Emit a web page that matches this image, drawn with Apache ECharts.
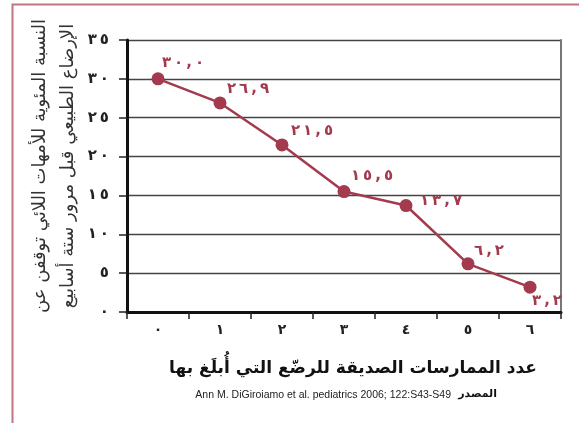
<!DOCTYPE html>
<html><head><meta charset="utf-8">
<script src="https://cdn.jsdelivr.net/npm/echarts@6/dist/echarts.min.js"></script>
<style>html,body{margin:0;padding:0;background:#fff}#c{width:579px;height:423px}</style>
</head><body><div id="c"></div>
<script>
const categories = ['٠','١','٢','٣','٤','٥','٦'];
const values = [30.0, 26.9, 21.5, 15.5, 13.7, 6.2, 3.2];
const valueLabels = ['٣٠,٠','٢٦,٩','٢١,٥','١٥,٥','١٣,٧','٦,٢','٣,٢'];
const yTickLabels = {0:'٠',5:'٥',10:'١٠',15:'١٥',20:'٢٠',25:'٢٥',30:'٣٠',35:'٣٥'};
const yTitle1 = 'النسبة المئوية للأمهات اللائي توقفن عن';
const yTitle2 = 'الإرضاع الطبيعي قبل مرور ستة أسابيع';
const xTitle = 'عدد الممارسات الصديقة للرضّع التي أُبلَغ بها';
const sourceLabel = 'المصدر';
const sourceText = 'Ann M. DiGiroiamo et al. pediatrics 2006; 122:S43-S49';

// label placement (layout only)
const labelOffsets = [[25,-16],[28,-14],[30,-14],[28,-15],[35,-4],[21,-13],[17,14]];

const spaced = s => '\u202D' + s.split('').join('\u2009') + '\u202C';
const RED = '#a33a4e';
const AR = "'DejaVu Sans', sans-serif";

const chart = echarts.init(document.getElementById('c'), null, {renderer:'canvas'});
chart.setOption({
  animation:false,
  grid:{left:127,right:18,top:40,bottom:111},
  xAxis:{type:'category',data:categories,boundaryGap:true,
    axisLine:{lineStyle:{color:'#111',width:3}},
    axisTick:{show:true,length:7,interval:0,lineStyle:{color:'#222',width:1.5}},
    axisLabel:{interval:0,margin:11,color:'#222',fontFamily:AR,fontWeight:'bold',fontSize:14},
    splitLine:{show:false}},
  yAxis:[{type:'value',min:0,max:35,interval:5,
    axisLine:{show:true,lineStyle:{color:'#111',width:3}},
    axisTick:{show:true,length:8,lineStyle:{color:'#222',width:1.5}},
    axisLabel:{margin:18,color:'#222',fontFamily:AR,fontWeight:'bold',fontSize:15,
      formatter:v=>spaced(yTickLabels[v]||'')},
    splitLine:{lineStyle:{color:'#444',width:1.3}}},
   {type:'value',min:0,max:35,interval:5,position:'right',
    axisLine:{show:true,lineStyle:{color:'#777',width:2}},
    axisTick:{show:false},axisLabel:{show:false},splitLine:{show:false}}],
  series:[{type:'line',data:values.map((v,i)=>({value:v,label:{offset:labelOffsets[i]}})),
    symbol:'circle',symbolSize:13,
    lineStyle:{color:RED,width:2.5},itemStyle:{color:RED},
    label:{show:true,position:'inside',color:RED,fontFamily:AR,fontWeight:'bold',fontSize:15,
      formatter:p=>spaced(valueLabels[p.dataIndex])}}],
  graphic:[
    {type:'polyline',shape:{points:[[579,4.5],[12.5,4.5],[12.5,423]]},style:{stroke:'#c27582',lineWidth:2,fill:null}},
    {type:'text',x:40,y:166,rotation:Math.PI/2,style:{text:yTitle1,font:"18px "+AR,fill:'#333',align:'center',verticalAlign:'middle'}},
    {type:'text',x:68,y:166,rotation:Math.PI/2,style:{text:yTitle2,font:"18px "+AR,fill:'#333',align:'center',verticalAlign:'middle'}},
    {type:'text',x:353,y:369,style:{text:xTitle,font:"bold 17px "+AR,fill:'#111',align:'center',verticalAlign:'middle'}},
    {type:'text',x:451,y:395,style:{text:sourceText,font:"10.5px 'Liberation Sans', Arial, sans-serif",fill:'#222',align:'right',verticalAlign:'middle'}},
    {type:'text',x:497,y:394,style:{text:sourceLabel,font:"bold 11px "+AR,fill:'#111',align:'right',verticalAlign:'middle'}}
  ]
});
</script></body></html>
